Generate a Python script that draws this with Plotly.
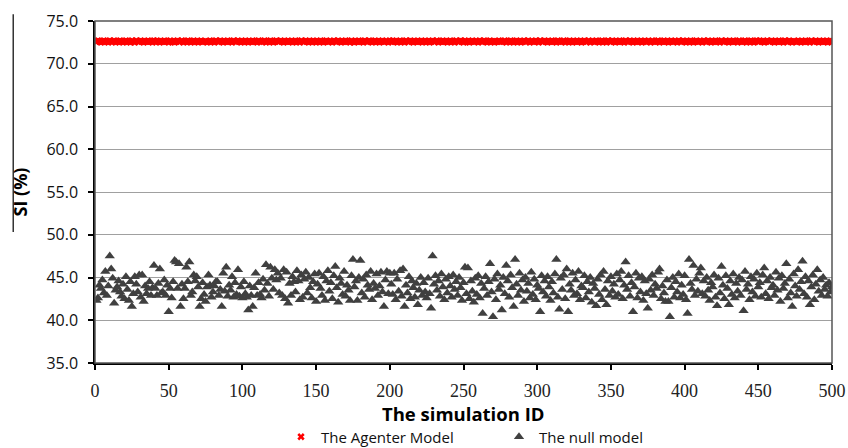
import plotly.graph_objects as go

# Simulation IDs
sim_id = list(range(1, 501))

# SI (%) of The Agenter Model (~72.5-72.8)
agenter_si = [
    72.6, 72.7, 72.6, 72.5, 72.6, 72.7, 72.6, 72.6, 72.5, 72.7, 72.6, 72.6, 72.7, 72.5, 72.6, 72.6, 72.7, 72.6, 72.5, 72.6, 72.7, 72.6, 72.6, 72.5, 72.7,
    72.6, 72.5, 72.7, 72.6, 72.6, 72.7, 72.6, 72.5, 72.6, 72.6, 72.7, 72.6, 72.6, 72.5, 72.7, 72.6, 72.7, 72.6, 72.5, 72.6, 72.6, 72.7, 72.6, 72.6, 72.5,
    72.7, 72.6, 72.6, 72.5, 72.6, 72.7, 72.6, 72.6, 72.7, 72.5, 72.6, 72.6, 72.7, 72.6, 72.5, 72.6, 72.7, 72.6, 72.6, 72.5, 72.6, 72.7, 72.6, 72.6, 72.6,
    72.5, 72.6, 72.7, 72.6, 72.6, 72.5, 72.7, 72.6, 72.6, 72.7, 72.6, 72.5, 72.6, 72.6, 72.7, 72.6, 72.6, 72.5, 72.7, 72.6, 72.6, 72.7, 72.6, 72.5, 72.6,
    72.6, 72.7, 72.6, 72.5, 72.6, 72.6, 72.7, 72.6, 72.6, 72.5, 72.7, 72.6, 72.6, 72.6, 72.7, 72.5, 72.6, 72.6, 72.7, 72.6, 72.5, 72.6, 72.7, 72.6, 72.6,
    72.7, 72.6, 72.5, 72.6, 72.6, 72.7, 72.6, 72.6, 72.5, 72.6, 72.7, 72.6, 72.6, 72.5, 72.7, 72.6, 72.6, 72.7, 72.6, 72.5, 72.6, 72.6, 72.7, 72.6, 72.5,
    72.6, 72.6, 72.7, 72.6, 72.5, 72.6, 72.7, 72.6, 72.6, 72.6, 72.5, 72.7, 72.6, 72.6, 72.7, 72.6, 72.5, 72.6, 72.6, 72.7, 72.6, 72.6, 72.5, 72.7, 72.6,
    72.5, 72.6, 72.6, 72.7, 72.6, 72.6, 72.5, 72.7, 72.6, 72.6, 72.7, 72.6, 72.5, 72.6, 72.7, 72.6, 72.6, 72.5, 72.6, 72.7, 72.6, 72.6, 72.6, 72.5, 72.7,
    72.6, 72.7, 72.6, 72.6, 72.5, 72.6, 72.7, 72.6, 72.6, 72.5, 72.7, 72.6, 72.6, 72.7, 72.6, 72.5, 72.6, 72.6, 72.7, 72.6, 72.6, 72.5, 72.6, 72.7, 72.6,
    72.6, 72.5, 72.6, 72.7, 72.6, 72.6, 72.7, 72.5, 72.6, 72.6, 72.7, 72.6, 72.6, 72.5, 72.6, 72.7, 72.6, 72.6, 72.5, 72.7, 72.6, 72.6, 72.7, 72.6, 72.5,
    72.7, 72.6, 72.6, 72.5, 72.6, 72.7, 72.6, 72.6, 72.6, 72.5, 72.7, 72.6, 72.6, 72.7, 72.6, 72.5, 72.6, 72.7, 72.6, 72.6, 72.5, 72.6, 72.6, 72.7, 72.6,
    72.6, 72.6, 72.7, 72.5, 72.6, 72.6, 72.7, 72.6, 72.5, 72.6, 72.7, 72.6, 72.6, 72.5, 72.6, 72.7, 72.6, 72.6, 72.7, 72.5, 72.6, 72.6, 72.6, 72.7, 72.6,
    72.5, 72.7, 72.6, 72.6, 72.7, 72.6, 72.5, 72.6, 72.6, 72.7, 72.6, 72.6, 72.5, 72.7, 72.6, 72.6, 72.6, 72.7, 72.5, 72.6, 72.6, 72.7, 72.6, 72.5, 72.6,
    72.6, 72.7, 72.6, 72.6, 72.5, 72.6, 72.7, 72.6, 72.6, 72.7, 72.5, 72.6, 72.6, 72.6, 72.7, 72.6, 72.5, 72.6, 72.7, 72.6, 72.6, 72.5, 72.7, 72.6, 72.6,
    72.7, 72.6, 72.5, 72.6, 72.6, 72.7, 72.6, 72.6, 72.5, 72.7, 72.6, 72.6, 72.7, 72.6, 72.5, 72.6, 72.6, 72.7, 72.6, 72.6, 72.5, 72.6, 72.7, 72.6, 72.6,
    72.6, 72.5, 72.7, 72.6, 72.6, 72.6, 72.7, 72.5, 72.6, 72.6, 72.7, 72.6, 72.6, 72.5, 72.6, 72.7, 72.6, 72.6, 72.6, 72.5, 72.7, 72.6, 72.6, 72.7, 72.6,
    72.5, 72.6, 72.6, 72.7, 72.6, 72.5, 72.6, 72.7, 72.6, 72.6, 72.6, 72.5, 72.7, 72.6, 72.6, 72.7, 72.6, 72.5, 72.6, 72.6, 72.7, 72.6, 72.6, 72.5, 72.7,
    72.6, 72.6, 72.7, 72.6, 72.5, 72.6, 72.6, 72.7, 72.6, 72.6, 72.5, 72.7, 72.6, 72.6, 72.6, 72.7, 72.5, 72.6, 72.6, 72.7, 72.6, 72.5, 72.6, 72.7, 72.6,
    72.7, 72.6, 72.6, 72.5, 72.6, 72.7, 72.6, 72.6, 72.7, 72.6, 72.5, 72.6, 72.6, 72.7, 72.6, 72.6, 72.5, 72.7, 72.6, 72.6, 72.7, 72.6, 72.5, 72.6, 72.6,
    72.6, 72.7, 72.6, 72.5, 72.6, 72.6, 72.7, 72.6, 72.6, 72.5, 72.7, 72.6, 72.6, 72.7, 72.6, 72.5, 72.6, 72.6, 72.7, 72.6, 72.6, 72.5, 72.6, 72.7, 72.6,
]

# SI (%) of The null model (estimated from the scattered triangles)
null_si = [
    42.3, 42.6, 44.1, 43.7, 44.7, 43.2, 45.7, 42.9, 44.0, 47.5,
    46.0, 44.9, 42.0, 43.5, 43.9, 44.6, 43.3, 42.8, 44.2, 42.5,
    45.1, 43.6, 42.3, 44.5, 41.6, 43.1, 45.1, 44.2, 43.3, 45.3,
    42.7, 45.3, 42.2, 44.0, 43.1, 43.7, 44.5, 42.9, 43.8, 46.4,
    43.7, 42.9, 44.3, 46.0, 43.2, 43.3, 44.7, 42.9, 44.1, 41.0,
    43.7, 42.6, 44.5, 47.0, 46.8, 43.7, 46.6, 41.6, 44.2, 42.5,
    43.7, 46.2, 44.5, 46.8, 42.9, 43.3, 45.3, 44.6, 45.1, 43.9,
    41.6, 42.5, 44.4, 43.0, 42.2, 43.9, 45.3, 44.1, 42.7, 43.3,
    44.0, 44.5, 44.5, 42.9, 43.6, 41.6, 45.5, 43.4, 46.2, 42.8,
    44.1, 43.5, 45.1, 42.7, 44.4, 43.0, 45.9, 42.8, 43.9, 42.6,
    44.5, 43.1, 42.7, 41.2, 44.0, 42.9, 41.6, 43.8, 45.5, 42.9,
    44.4, 43.0, 42.6, 44.8, 43.5, 46.5, 44.3, 42.8, 46.2, 44.9,
    43.6, 45.9, 44.7, 45.5, 43.2, 44.9, 42.9, 45.9, 42.5, 45.6,
    42.0, 44.3, 42.9, 45.1, 44.5, 43.3, 45.8, 44.6, 42.4, 45.3,
    42.7, 44.8, 45.6, 43.2, 45.0, 43.8, 42.6, 44.5, 45.4, 42.2,
    44.2, 45.5, 43.7, 42.9, 45.1, 42.3, 44.6, 45.8, 43.4, 44.4,
    42.5, 45.2, 46.3, 43.8, 42.1, 44.9, 44.3, 43.0, 45.7, 42.8,
    44.1, 43.5, 42.3, 45.2, 47.1, 43.9, 44.6, 42.3, 45.0, 47.0,
    43.2, 44.8, 42.7, 45.3, 44.1, 43.6, 45.7, 42.4, 44.3, 43.7,
    45.4, 42.9, 44.0, 45.6, 43.3, 41.6, 44.7, 45.7, 43.1, 45.5,
    44.2, 43.0, 45.5, 42.4, 44.8, 43.4, 45.8, 42.8, 46.0, 41.6,
    44.1, 43.2, 45.1, 42.5, 44.6, 43.8, 42.7, 44.3, 41.8, 43.5,
    45.0, 42.9, 44.4, 43.3, 42.6, 44.9, 43.1, 41.4, 47.5, 44.2,
    45.2, 43.5, 44.6, 42.8, 45.4, 43.9, 42.4, 44.8, 43.2, 45.1,
    44.0, 42.7, 45.3, 43.6, 44.5, 42.9, 45.0, 43.8, 42.3, 44.4,
    46.2, 43.1, 46.1, 42.5, 44.6, 43.4, 42.1, 44.9, 43.0, 45.2,
    42.6, 44.3, 40.8, 43.7, 45.1, 42.9, 44.5, 46.6, 43.3, 40.4,
    44.8, 42.4, 45.4, 43.6, 44.1, 41.2, 45.0, 43.1, 46.4, 44.6,
    42.7, 45.3, 43.8, 41.6, 47.1, 44.2, 42.9, 45.5, 43.5, 44.7,
    42.2, 45.0, 43.4, 44.3, 42.6, 45.6, 43.0, 44.8, 42.4, 44.1,
    43.7, 41.0, 45.2, 43.3, 44.6, 42.8, 45.1, 43.9, 42.3, 44.5,
    43.2, 45.4, 47.1, 42.7, 41.3, 44.9, 43.6, 45.3, 42.5, 46.0,
    41.0, 44.2, 43.5, 45.5, 42.9, 44.7, 43.1, 45.7, 42.4, 44.0,
    43.8, 45.2, 42.6, 44.5, 43.3, 45.0, 42.1, 44.3, 43.7, 41.7,
    44.8, 43.0, 45.3, 42.4, 45.7, 43.6, 41.8, 44.6, 42.9, 45.1,
    43.4, 44.2, 42.7, 45.4, 43.0, 44.7, 45.7, 42.5, 44.1, 46.8,
    43.6, 45.2, 42.8, 44.4, 41.0, 43.9, 45.5, 42.6, 44.9, 43.3,
    45.1, 42.3, 44.6, 43.1, 41.4, 44.8, 43.5, 45.3, 42.9, 44.2,
    43.7, 45.6, 46.0, 42.5, 44.0, 43.2, 42.2, 44.7, 42.2, 40.4,
    43.8, 45.0, 42.7, 44.5, 43.3, 45.4, 42.6, 44.1, 43.0, 45.2,
    42.4, 40.8, 47.1, 44.3, 43.6, 46.4, 42.9, 44.8, 43.4, 45.5,
    46.1, 43.1, 44.6, 42.8, 45.0, 43.5, 42.3, 44.4, 43.9, 45.3,
    42.7, 41.7, 44.9, 43.2, 46.3, 44.1, 42.5, 45.2, 43.7, 41.8,
    44.6, 43.0, 45.4, 42.6, 44.3, 43.4, 45.0, 42.9, 44.7, 41.1,
    45.7, 43.6, 44.2, 42.4, 45.1, 43.3, 44.8, 42.8, 45.5, 43.9,
    44.4, 42.7, 45.3, 46.1, 43.1, 44.6, 42.5, 45.0, 43.8, 44.1,
    42.9, 45.6, 43.5, 44.9, 42.2, 45.2, 43.7, 44.3, 46.6, 42.6,
    44.8, 43.2, 41.6, 45.4, 44.0, 42.8, 45.9, 43.6, 44.5, 46.9,
    43.1, 45.1, 42.7, 44.6, 41.8, 43.9, 45.3, 42.4, 44.2, 45.9,
    43.4, 44.7, 42.9, 45.0, 43.6, 44.1, 42.8, 44.4, 43.3, 43.9,
]

y_ticks = [35, 40, 45, 50, 55, 60, 65, 70, 75]
x_ticks = [0, 50, 100, 150, 200, 250, 300, 350, 400, 450, 500]

fig = go.Figure()
fig.add_trace(go.Scatter(
    x=sim_id, y=agenter_si, mode="markers", name="The Agenter Model",
    marker=dict(symbol="x", size=6.5, color="#ff0000", line=dict(width=0)),
))
fig.add_trace(go.Scatter(
    x=sim_id, y=null_si, mode="markers", name="The null model",
    marker=dict(symbol="triangle-up", size=9, color="#404040", line=dict(width=0)),
))

fig.update_layout(
    width=848, height=448,
    margin=dict(l=95, r=16, t=21, b=85, autoexpand=False),
    paper_bgcolor="white", plot_bgcolor="white",
    showlegend=True,
    legend=dict(
        orientation="h", xref="container", yref="container",
        x=281 / 848, xanchor="left", y=1 - 437 / 448, yanchor="middle",
        font=dict(family="Open Sans", size=15, color="#111111"),
        itemwidth=30, entrywidth=173, entrywidthmode="pixels",
        bgcolor="rgba(0,0,0,0)",
    ),
    xaxis=dict(
        range=[0, 500], tickvals=x_ticks, showgrid=False, zeroline=False,
        automargin=False,
        showline=True, linecolor="black", linewidth=1.5,
        ticks="outside", ticklen=5, tickcolor="black", tickwidth=1.5,
        ticklabelstandoff=6,
        tickfont=dict(family="Liberation Serif", size=18, color="#222222"),
    ),
    yaxis=dict(
        range=[35, 75], tickvals=y_ticks, tickformat=".1f",
        automargin=False,
        showgrid=True, gridcolor="#a0a0a0", gridwidth=1, zeroline=False,
        showline=True, linecolor="black", linewidth=1.5,
        ticks="outside", ticklen=5, tickcolor="black", tickwidth=1.5,
        ticklabelstandoff=7,
        tickfont=dict(family="Open Sans", size=16, color="#111111"),
        title=dict(text="SI (%)", standoff=14,
                   font=dict(family="Open Sans", size=18, color="black", weight="bold")),
    ),
    annotations=[
        dict(text="The simulation ID", xref="paper", yref="paper",
             x=0.5, y=-0.148, xanchor="center", yanchor="middle", showarrow=False,
             font=dict(family="Open Sans", size=18.5, color="black", weight="bold")),
    ],
    shapes=[
        dict(type="rect", xref="paper", yref="paper", x0=0, x1=1, y0=0, y1=1,
             line=dict(color="#555555", width=1.5), layer="above"),
        dict(type="line", xref="paper", yref="paper", x0=-0.111, x1=-0.111,
             y0=0.383, y1=1.02, line=dict(color="black", width=1.2)),
    ],
)

# Remove the default page margin so the 848x448 figure fills the window exactly.
fig.write_html(
    "out.html",
    config={"displayModeBar": False},
    post_script="document.body.style.margin='0';document.body.style.overflow='hidden';",
)
